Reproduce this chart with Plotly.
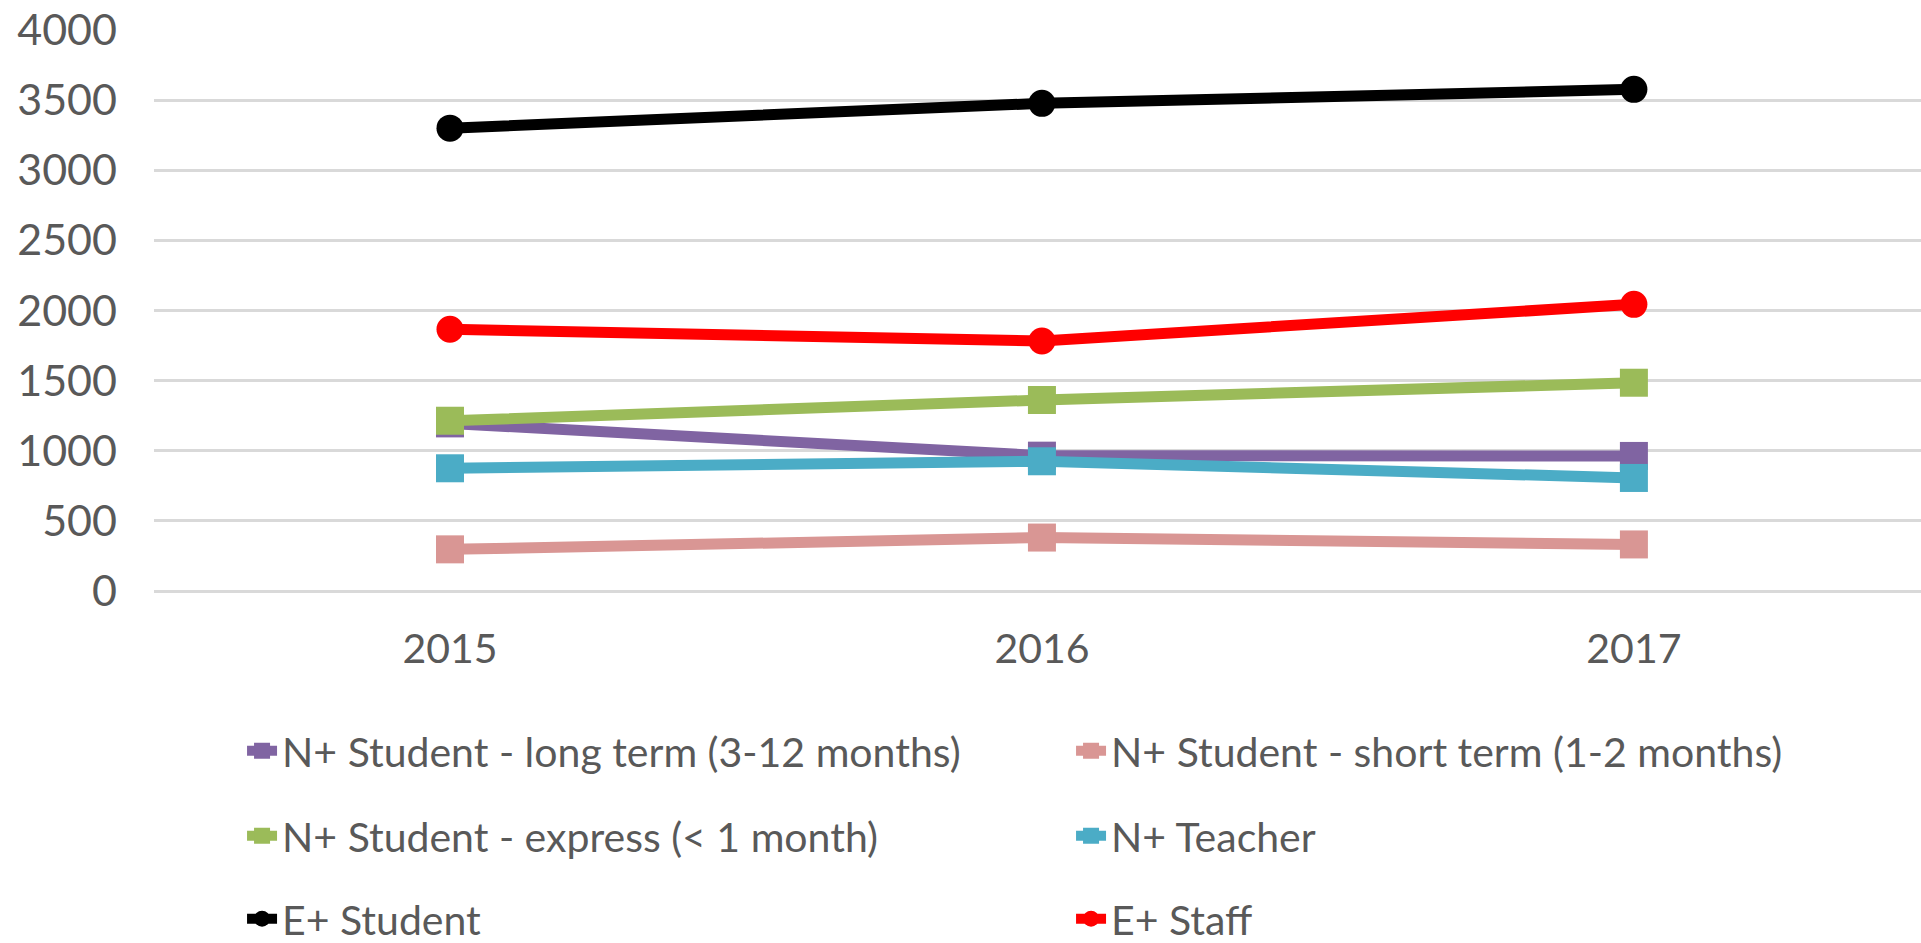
import plotly.graph_objects as go

years = ["2015", "2016", "2017"]
long_term = [1195, 965, 963]
short_term = [297, 381, 332]
express = [1214, 1362, 1485]
teacher = [875, 925, 806]
e_student = [3300, 3477, 3577]
e_staff = [1866, 1783, 2044]

series = [
    ("N+ Student - long term (3-12 months)", long_term, "#8064A2", "square", "legend"),
    ("N+ Student - short term (1-2 months)", short_term, "#D99694", "square", "legend"),
    ("N+ Student - express (< 1 month)", express, "#9BBB59", "square", "legend2"),
    ("N+ Teacher", teacher, "#4BACC6", "square", "legend2"),
    ("E+ Student", e_student, "#000000", "circle", "legend3"),
    ("E+ Staff", e_staff, "#FF0000", "circle", "legend3"),
]

FONT = "Lato"
GREY = "#595959"

fig = go.Figure()
for name, vals, color, sym, leg in series:
    fig.add_trace(go.Scatter(
        x=list(range(len(years))), y=vals, name=name, mode="lines+markers",
        line=dict(color=color, width=11),
        marker=dict(color=color, symbol=sym, size=28 if sym == "square" else 27,
                    line=dict(width=0)),
        legend=leg,
    ))

legend_common = dict(
    orientation="h", xref="container", yref="container",
    xanchor="left", yanchor="middle", x=0.126,
    entrywidth=784, entrywidthmode="pixels",
    font=dict(family=FONT, size=41, color=GREY),
    bgcolor="rgba(0,0,0,0)", itemsizing="trace",
    borderwidth=0,
)

fig.update_layout(
    width=1921, height=943,
    margin=dict(l=154, r=0, t=30, b=352),
    paper_bgcolor="white", plot_bgcolor="white",
    font=dict(family=FONT, color=GREY),
    showlegend=True,
    legend=dict(legend_common, y=1 - 751 / 943),
    legend2=dict(legend_common, y=1 - 836 / 943),
    legend3=dict(legend_common, y=1 - 919 / 943),
    xaxis=dict(
        range=[-0.5, 2.485], tickmode="array",
        tickvals=list(range(len(years))), ticktext=years,
        showgrid=False, zeroline=False, showline=False,
        tickfont=dict(family=FONT, size=41, color=GREY),
        ticks="", ticklabelstandoff=30,
    ),
    yaxis=dict(
        range=[0, 4000], tick0=0, dtick=500,
        showgrid=True, gridcolor="#D9D9D9", gridwidth=2.5,
        zeroline=True, zerolinecolor="#D9D9D9", zerolinewidth=2.5,
        showline=False, ticks="",
        tickfont=dict(family=FONT, size=43, color=GREY),
        ticklabelstandoff=36,
    ),
)

fig.write_html("out.html", config={"displayModeBar": False},
               post_script="document.body.style.margin='0';document.body.style.overflow='hidden';")
